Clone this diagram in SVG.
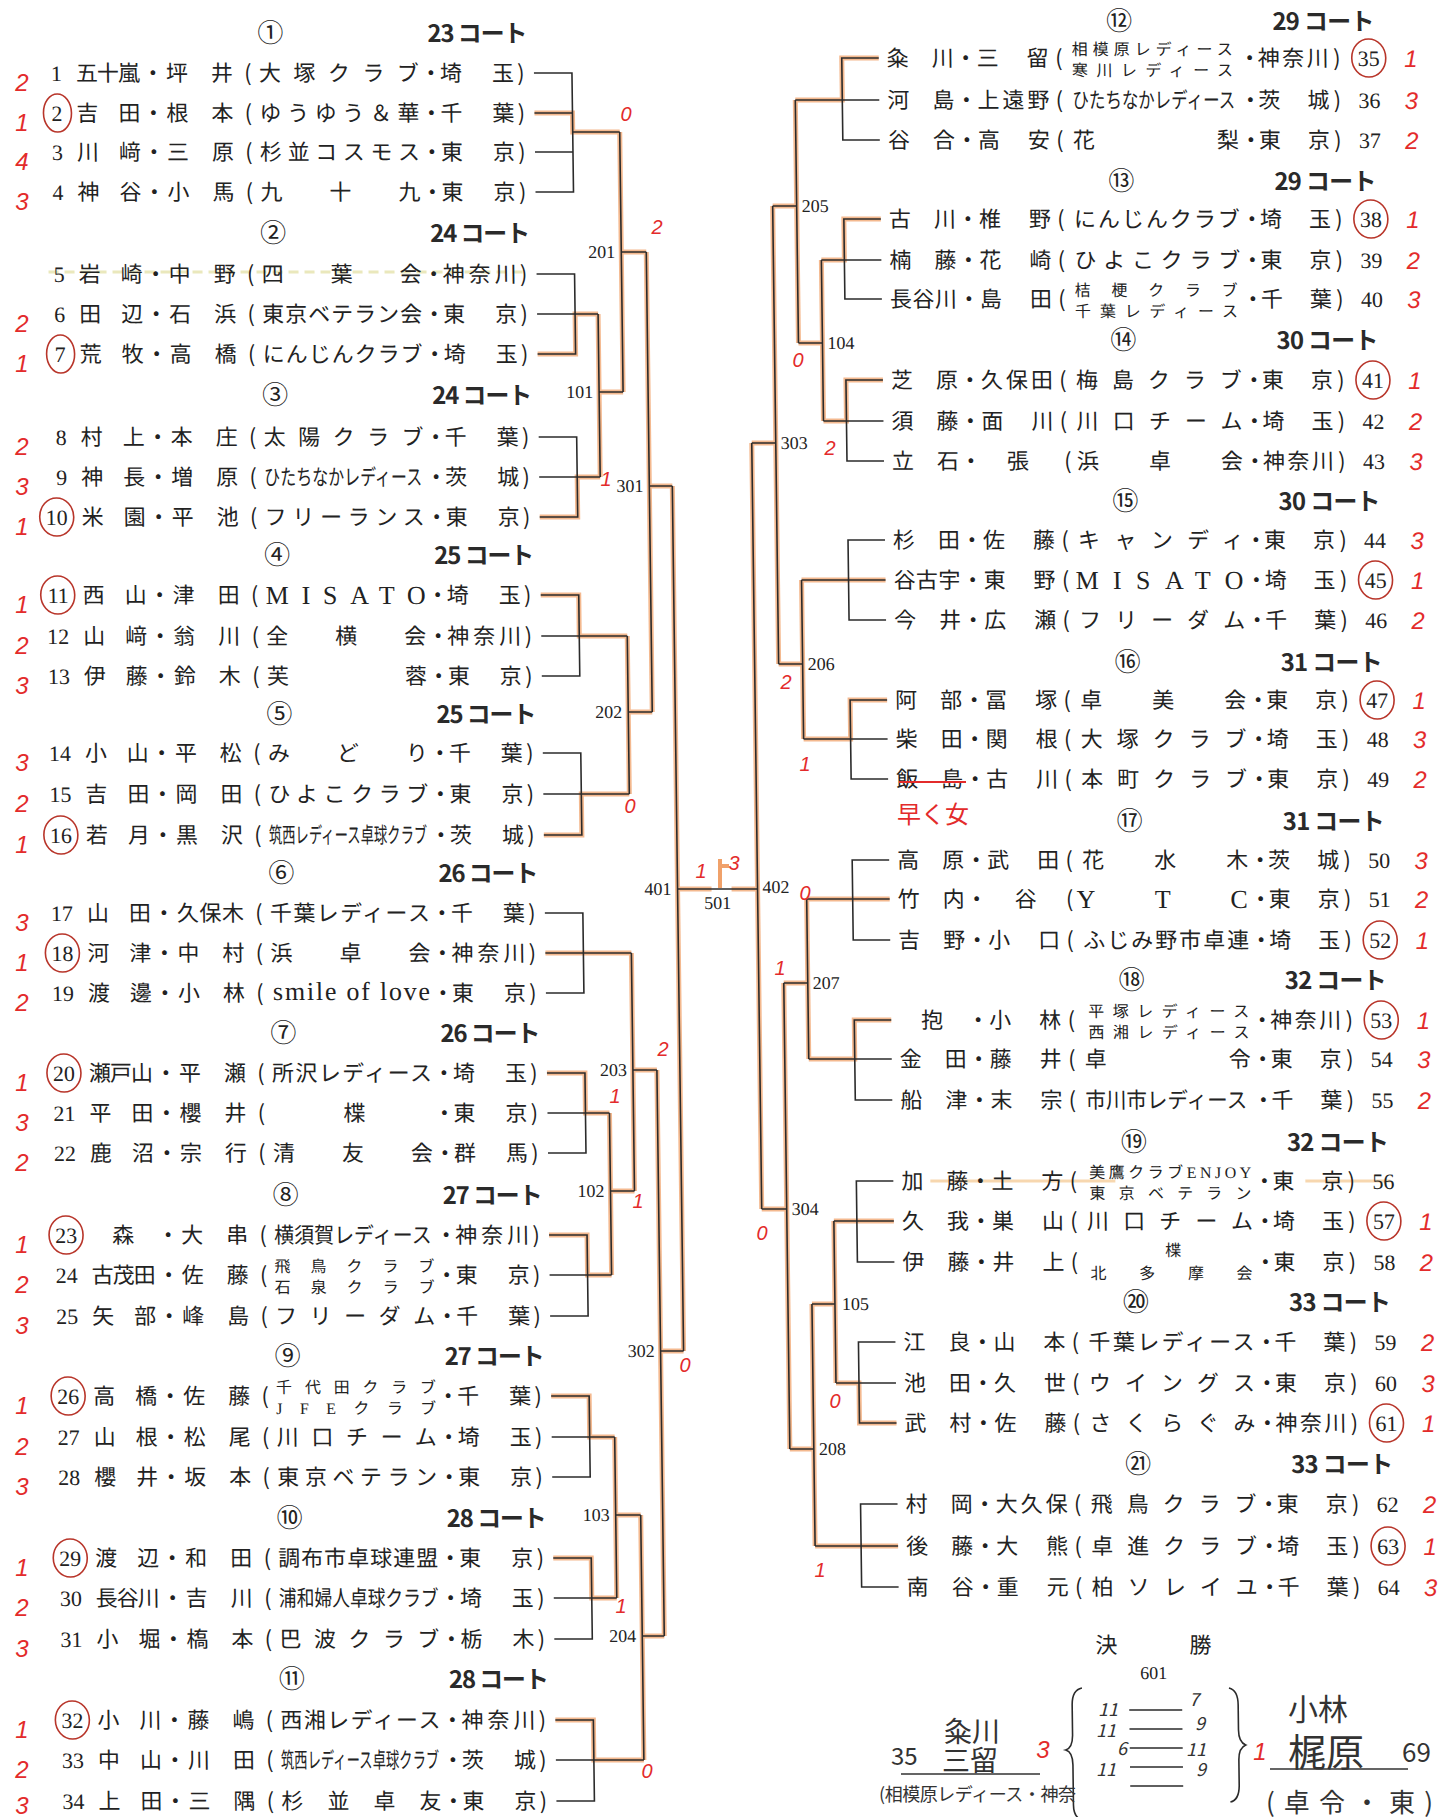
<svg xmlns="http://www.w3.org/2000/svg" width="1456" height="1817" viewBox="0 0 1456 1817">
<style>
.t{font-family:"Noto Sans CJK JP",sans-serif;font-size:22px;fill:#222}
.s{font-family:"Noto Sans CJK JP",sans-serif;font-size:16px;fill:#222}
.sl{font-family:"Liberation Serif","Noto Sans CJK JP",serif;font-size:16px;fill:#222}
.L{font-family:"Liberation Serif",serif;font-size:26px;fill:#222}
.m{text-anchor:middle}
.e{text-anchor:end}
.n{font-family:"Liberation Serif",serif;font-size:22px;fill:#222}
.h{font-family:"Noto Sans CJK JP",sans-serif;font-size:26px;fill:#222;text-anchor:middle}
.c{font-family:"Noto Sans CJK JP",sans-serif;font-size:24px;font-weight:700;fill:#2a2a2a;text-anchor:end}
.lb{font-family:"Liberation Serif",serif;font-size:18px;fill:#222}
.ln{fill:none;stroke:#2b2b2b;stroke-width:1.6}
.hl{fill:none;stroke:#ec8a45;stroke-width:5;opacity:.6}
.ci{fill:none;stroke:#b8352a;stroke-width:1.6}
.r{font-family:"Liberation Sans",sans-serif;font-style:italic;font-size:24px;fill:#e32b2b;text-anchor:middle}
.r2{font-family:"Liberation Sans",sans-serif;font-style:italic;font-size:20px;fill:#e32b2b;text-anchor:middle}
.hw{font-family:"Noto Sans CJK JP",sans-serif;fill:#333}
</style>
<rect width="1456" height="1817" fill="#fff"/>
<g transform="matrix(1 0 0.013 1 0 0)">
<g id="highlights">
<path class="hl" d="M533 113H571V132H618 M533 354H571V314H594 M533 517H571V477H594 M594 314V477 M594 392H618 M618 132V392 M618 252H643 M533 595H571V636H619 M533 835H571V794H619 M619 636V794 M619 712H643 M643 252V712 M643 486H666 M533 953H619 M533 1073H571V1113H595 M533 1235H571V1275H595 M595 1113V1275 M595 1191H619 M619 953V1191 M619 1070H643 M533 1396H571V1437H596 M533 1558H571V1598H596 M596 1437V1598 M596 1515H621 M533 1720H571V1760H621 M621 1515V1760 M621 1636H643 M643 1070V1636 M643 1351H666 M666 486V1351 M666 889H700"/>
<path class="hl" d="M878 58H841V100H794 M878 219H841V260H818 M878 380H841V421H818 M818 260V421 M818 343H794 M794 100V343 M794 206H770 M878 580H794 M878 700H841V739H794 M794 580V739 M794 664H770 M770 206V664 M770 443H746 M878 899H795 M878 1020H841V1059H795 M795 899V1059 M795 983H771 M878 1221H818 M878 1423H841V1383H818 M818 1221V1383 M818 1304H795 M878 1546H795 M795 1304V1546 M795 1449H771 M771 983V1449 M771 1209H746 M746 443V1209 M746 889H720"/>
<path d="M45 272H521" stroke="#d6d27a" stroke-width="3" stroke-dasharray="10 6" opacity=".5" fill="none"/>
<path d="M915 1181H1100 M1290 1181H1375" stroke="#f0b060" stroke-width="3" opacity=".5" fill="none"/>
</g>
<g id="connectors">
<path class="ln" d="M533 73H571V192H533 M533 113H571 M533 152H571 M571 132H618 M533 274H571V354H533 M533 314H594 M533 437H571V517H533 M533 477H594 M594 314V477 M594 392H618 M618 132V392 M618 252H643 M533 595H571V676H533 M533 636H619 M533 753H571V835H533 M533 794H619 M619 636V794 M619 712H643 M643 252V712 M643 486H666 M533 913H571V993H533 M533 953H619 M533 1073H571V1153H533 M533 1113H595 M533 1235H571V1316H533 M533 1275H595 M595 1113V1275 M595 1191H619 M619 953V1191 M619 1070H643 M533 1396H571V1477H533 M533 1437H596 M533 1558H571V1639H533 M533 1598H596 M596 1437V1598 M596 1515H621 M533 1720H571V1801H533 M533 1760H621 M621 1515V1760 M621 1636H643 M643 1070V1636 M643 1351H666 M666 486V1351 M666 889H746"/>
<path class="ln" d="M878 58H841V140H878 M878 100H794 M878 219H841V299H878 M878 260H818 M878 380H841V461H878 M878 421H818 M818 260V421 M818 343H794 M794 100V343 M794 206H770 M878 540H841V620H878 M878 580H794 M878 700H841V779H878 M878 739H794 M794 580V739 M794 664H770 M770 206V664 M770 443H746 M878 860H841V940H878 M878 899H795 M878 1020H841V1100H878 M878 1059H795 M795 899V1059 M795 983H771 M878 1181H841V1262H878 M878 1221H818 M878 1342H841V1423H878 M878 1383H818 M818 1221V1383 M818 1304H795 M878 1504H841V1587H878 M878 1546H795 M795 1304V1546 M795 1449H771 M771 983V1449 M771 1209H746 M746 443V1209"/>
</g>
<g id="match-labels" class="lb">
<text class="e" x="588" y="398">101</text><text class="e" x="612" y="258">201</text><text class="e" x="613" y="718">202</text><text class="e" x="637" y="492">301</text>
<text class="e" x="589" y="1197">102</text><text class="e" x="613" y="1076">203</text><text class="e" x="590" y="1521">103</text><text class="e" x="615" y="1642">204</text>
<text class="e" x="637" y="1357">302</text><text class="e" x="660" y="895">401</text>
<text x="823" y="349">104</text><text x="799" y="212">205</text><text x="799" y="670">206</text><text x="775" y="449">303</text>
<text x="800" y="989">207</text><text x="825" y="1310">105</text><text x="800" y="1455">208</text><text x="776" y="1215">304</text>
<text x="751" y="893">402</text><text class="m" x="706" y="909">501</text>
</g>
<g id="headers">
<text class="h" x="270" y="42">①</text><text class="c" x="527" y="42" textLength="100">23 コート</text>
<text class="h" x="270" y="242">②</text><text class="c" x="527" y="242" textLength="100">24 コート</text>
<text class="h" x="270" y="404">③</text><text class="c" x="527" y="404" textLength="100">24 コート</text>
<text class="h" x="270" y="564">④</text><text class="c" x="527" y="564" textLength="100">25 コート</text>
<text class="h" x="270" y="723">⑤</text><text class="c" x="527" y="723" textLength="100">25 コート</text>
<text class="h" x="270" y="882">⑥</text><text class="c" x="527" y="882" textLength="100">26 コート</text>
<text class="h" x="270" y="1042">⑦</text><text class="c" x="527" y="1042" textLength="100">26 コート</text>
<text class="h" x="270" y="1204">⑧</text><text class="c" x="527" y="1204" textLength="100">27 コート</text>
<text class="h" x="270" y="1365">⑨</text><text class="c" x="527" y="1365" textLength="100">27 コート</text>
<text class="h" x="270" y="1527">⑩</text><text class="c" x="527" y="1527" textLength="100">28 コート</text>
<text class="h" x="270" y="1688">⑪</text><text class="c" x="527" y="1688" textLength="100">28 コート</text>
<text class="h" x="1119" y="30">⑫</text><text class="c" x="1374" y="30" textLength="102">29 コート</text>
<text class="h" x="1119" y="190">⑬</text><text class="c" x="1374" y="190" textLength="102">29 コート</text>
<text class="h" x="1119" y="349">⑭</text><text class="c" x="1374" y="349" textLength="102">30 コート</text>
<text class="h" x="1119" y="510">⑮</text><text class="c" x="1374" y="510" textLength="102">30 コート</text>
<text class="h" x="1119" y="671">⑯</text><text class="c" x="1374" y="671" textLength="102">31 コート</text>
<text class="h" x="1119" y="830">⑰</text><text class="c" x="1374" y="830" textLength="102">31 コート</text>
<text class="h" x="1119" y="989">⑱</text><text class="c" x="1374" y="989" textLength="102">32 コート</text>
<text class="h" x="1119" y="1151">⑲</text><text class="c" x="1374" y="1151" textLength="102">32 コート</text>
<text class="h" x="1119" y="1311">⑳</text><text class="c" x="1374" y="1311" textLength="102">33 コート</text>
<text class="h" x="1119" y="1473">㉑</text><text class="c" x="1374" y="1473" textLength="102">33 コート</text>
</g>
<g id="p1"><text class="n e" x="61" y="81">1</text><text class="t" x="75" y="81" textLength="64">五十嵐</text><text class="t" x="165" y="81" textLength="67">坪井</text><text class="t" x="258" y="81" textLength="160">大塚クラブ</text><text class="t" x="439" y="81" textLength="74">埼玉</text><text class="t m" y="81"><tspan x="152">・</tspan><tspan x="247">(</tspan><tspan x="430">・</tspan><tspan x="520">)</tspan></text></g>
<g id="p2"><ellipse class="ci" cx="56" cy="113" rx="14" ry="19"/><text class="n e" x="61" y="121">2</text><text class="t" x="75" y="121" textLength="64">吉田</text><text class="t" x="165" y="121" textLength="67">根本</text><text class="t" x="258" y="121" textLength="160">ゆうゆう＆華</text><text class="t" x="439" y="121" textLength="74">千葉</text><text class="t m" y="121"><tspan x="152">・</tspan><tspan x="247">(</tspan><tspan x="430">・</tspan><tspan x="520">)</tspan></text></g>
<g id="p3"><text class="n e" x="61" y="160">3</text><text class="t" x="75" y="160" textLength="64">川﨑</text><text class="t" x="165" y="160" textLength="67">三原</text><text class="t" x="258" y="160" textLength="160">杉並コスモス</text><text class="t" x="439" y="160" textLength="74">東京</text><text class="t m" y="160"><tspan x="152">・</tspan><tspan x="247">(</tspan><tspan x="430">・</tspan><tspan x="520">)</tspan></text></g>
<g id="p4"><text class="n e" x="61" y="200">4</text><text class="t" x="75" y="200" textLength="64">神谷</text><text class="t" x="165" y="200" textLength="67">小馬</text><text class="t" x="258" y="200" textLength="160">九十九</text><text class="t" x="439" y="200" textLength="74">東京</text><text class="t m" y="200"><tspan x="152">・</tspan><tspan x="247">(</tspan><tspan x="430">・</tspan><tspan x="520">)</tspan></text></g>
<g id="p5"><text class="n e" x="61" y="282">5</text><text class="t" x="75" y="282" textLength="64">岩崎</text><text class="t" x="165" y="282" textLength="67">中野</text><text class="t" x="258" y="282" textLength="160">四葉会</text><text class="t" x="439" y="282" textLength="74">神奈川</text><text class="t m" y="282"><tspan x="152">・</tspan><tspan x="247">(</tspan><tspan x="430">・</tspan><tspan x="520">)</tspan></text></g>
<g id="p6"><text class="n e" x="61" y="322">6</text><text class="t" x="75" y="322" textLength="64">田辺</text><text class="t" x="165" y="322" textLength="67">石浜</text><text class="t" x="258" y="322" textLength="160">東京ベテラン会</text><text class="t" x="439" y="322" textLength="74">東京</text><text class="t m" y="322"><tspan x="152">・</tspan><tspan x="247">(</tspan><tspan x="430">・</tspan><tspan x="520">)</tspan></text></g>
<g id="p7"><ellipse class="ci" cx="56" cy="354" rx="14" ry="19"/><text class="n e" x="61" y="362">7</text><text class="t" x="75" y="362" textLength="64">荒牧</text><text class="t" x="165" y="362" textLength="67">高橋</text><text class="t" x="258" y="362" textLength="160">にんじんクラブ</text><text class="t" x="439" y="362" textLength="74">埼玉</text><text class="t m" y="362"><tspan x="152">・</tspan><tspan x="247">(</tspan><tspan x="430">・</tspan><tspan x="520">)</tspan></text></g>
<g id="p8"><text class="n e" x="61" y="445">8</text><text class="t" x="75" y="445" textLength="64">村上</text><text class="t" x="165" y="445" textLength="67">本庄</text><text class="t" x="258" y="445" textLength="160">太陽クラブ</text><text class="t" x="439" y="445" textLength="74">千葉</text><text class="t m" y="445"><tspan x="152">・</tspan><tspan x="247">(</tspan><tspan x="430">・</tspan><tspan x="520">)</tspan></text></g>
<g id="p9"><text class="n e" x="61" y="485">9</text><text class="t" x="75" y="485" textLength="64">神長</text><text class="t" x="165" y="485" textLength="67">増原</text><text class="t" transform="translate(258 485) scale(0.727 1)">ひたちなかレディース</text><text class="t" x="439" y="485" textLength="74">茨城</text><text class="t m" y="485"><tspan x="152">・</tspan><tspan x="247">(</tspan><tspan x="430">・</tspan><tspan x="520">)</tspan></text></g>
<g id="p10"><ellipse class="ci" cx="50" cy="517" rx="17" ry="19"/><text class="n e" x="61" y="525">10</text><text class="t" x="75" y="525" textLength="64">米園</text><text class="t" x="165" y="525" textLength="67">平池</text><text class="t" x="258" y="525" textLength="160">フリーランス</text><text class="t" x="439" y="525" textLength="74">東京</text><text class="t m" y="525"><tspan x="152">・</tspan><tspan x="247">(</tspan><tspan x="430">・</tspan><tspan x="520">)</tspan></text></g>
<g id="p11"><ellipse class="ci" cx="50" cy="595" rx="17" ry="19"/><text class="n e" x="61" y="603">11</text><text class="t" x="75" y="603" textLength="64">西山</text><text class="t" x="165" y="603" textLength="67">津田</text><text class="L" x="258" y="604" textLength="160">MISATO</text><text class="t" x="439" y="603" textLength="74">埼玉</text><text class="t m" y="603"><tspan x="152">・</tspan><tspan x="247">(</tspan><tspan x="430">・</tspan><tspan x="520">)</tspan></text></g>
<g id="p12"><text class="n e" x="61" y="644">12</text><text class="t" x="75" y="644" textLength="64">山﨑</text><text class="t" x="165" y="644" textLength="67">翁川</text><text class="t" x="258" y="644" textLength="160">全横会</text><text class="t" x="439" y="644" textLength="74">神奈川</text><text class="t m" y="644"><tspan x="152">・</tspan><tspan x="247">(</tspan><tspan x="430">・</tspan><tspan x="520">)</tspan></text></g>
<g id="p13"><text class="n e" x="61" y="684">13</text><text class="t" x="75" y="684" textLength="64">伊藤</text><text class="t" x="165" y="684" textLength="67">鈴木</text><text class="t" x="258" y="684" textLength="160">芙蓉</text><text class="t" x="439" y="684" textLength="74">東京</text><text class="t m" y="684"><tspan x="152">・</tspan><tspan x="247">(</tspan><tspan x="430">・</tspan><tspan x="520">)</tspan></text></g>
<g id="p14"><text class="n e" x="61" y="761">14</text><text class="t" x="75" y="761" textLength="64">小山</text><text class="t" x="165" y="761" textLength="67">平松</text><text class="t" x="258" y="761" textLength="160">みどり</text><text class="t" x="439" y="761" textLength="74">千葉</text><text class="t m" y="761"><tspan x="152">・</tspan><tspan x="247">(</tspan><tspan x="430">・</tspan><tspan x="520">)</tspan></text></g>
<g id="p15"><text class="n e" x="61" y="802">15</text><text class="t" x="75" y="802" textLength="64">吉田</text><text class="t" x="165" y="802" textLength="67">岡田</text><text class="t" x="258" y="802" textLength="160">ひよこクラブ</text><text class="t" x="439" y="802" textLength="74">東京</text><text class="t m" y="802"><tspan x="152">・</tspan><tspan x="247">(</tspan><tspan x="430">・</tspan><tspan x="520">)</tspan></text></g>
<g id="p16"><ellipse class="ci" cx="50" cy="835" rx="17" ry="19"/><text class="n e" x="61" y="843">16</text><text class="t" x="75" y="843" textLength="64">若月</text><text class="t" x="165" y="843" textLength="67">黒沢</text><text class="t" transform="translate(258 843) scale(0.606 1)">筑西レディース卓球クラブ</text><text class="t" x="439" y="843" textLength="74">茨城</text><text class="t m" y="843"><tspan x="152">・</tspan><tspan x="247">(</tspan><tspan x="430">・</tspan><tspan x="520">)</tspan></text></g>
<g id="p17"><text class="n e" x="61" y="921">17</text><text class="t" x="75" y="921" textLength="64">山田</text><text class="t" x="165" y="921" textLength="67">久保木</text><text class="t" x="258" y="921" textLength="160">千葉レディース</text><text class="t" x="439" y="921" textLength="74">千葉</text><text class="t m" y="921"><tspan x="152">・</tspan><tspan x="247">(</tspan><tspan x="430">・</tspan><tspan x="520">)</tspan></text></g>
<g id="p18"><ellipse class="ci" cx="50" cy="953" rx="17" ry="19"/><text class="n e" x="61" y="961">18</text><text class="t" x="75" y="961" textLength="64">河津</text><text class="t" x="165" y="961" textLength="67">中村</text><text class="t" x="258" y="961" textLength="160">浜卓会</text><text class="t" x="439" y="961" textLength="74">神奈川</text><text class="t m" y="961"><tspan x="152">・</tspan><tspan x="247">(</tspan><tspan x="430">・</tspan><tspan x="520">)</tspan></text></g>
<g id="p19"><text class="n e" x="61" y="1001">19</text><text class="t" x="75" y="1001" textLength="64">渡邊</text><text class="t" x="165" y="1001" textLength="67">小林</text><text class="L" x="260" y="1000" font-size="20" textLength="157">smile of love</text><text class="t" x="439" y="1001" textLength="74">東京</text><text class="t m" y="1001"><tspan x="152">・</tspan><tspan x="247">(</tspan><tspan x="430">・</tspan><tspan x="520">)</tspan></text></g>
<g id="p20"><ellipse class="ci" cx="50" cy="1073" rx="17" ry="19"/><text class="n e" x="61" y="1081">20</text><text class="t" x="75" y="1081" textLength="64">瀬戸山</text><text class="t" x="165" y="1081" textLength="67">平瀬</text><text class="t" x="258" y="1081" textLength="160">所沢レディース</text><text class="t" x="439" y="1081" textLength="74">埼玉</text><text class="t m" y="1081"><tspan x="152">・</tspan><tspan x="247">(</tspan><tspan x="430">・</tspan><tspan x="520">)</tspan></text></g>
<g id="p21"><text class="n e" x="61" y="1121">21</text><text class="t" x="75" y="1121" textLength="64">平田</text><text class="t" x="165" y="1121" textLength="67">櫻井</text><text class="t" x="439" y="1121" textLength="74">東京</text><text class="t m" y="1121"><tspan x="152">・</tspan><tspan x="247">(</tspan><tspan x="340">楪</tspan><tspan x="430">・</tspan><tspan x="520">)</tspan></text></g>
<g id="p22"><text class="n e" x="61" y="1161">22</text><text class="t" x="75" y="1161" textLength="64">鹿沼</text><text class="t" x="165" y="1161" textLength="67">宗行</text><text class="t" x="258" y="1161" textLength="160">清友会</text><text class="t" x="439" y="1161" textLength="74">群馬</text><text class="t m" y="1161"><tspan x="152">・</tspan><tspan x="247">(</tspan><tspan x="430">・</tspan><tspan x="520">)</tspan></text></g>
<g id="p23"><ellipse class="ci" cx="50" cy="1235" rx="17" ry="19"/><text class="n e" x="61" y="1243">23</text><text class="t" x="165" y="1243" textLength="67">大串</text><text class="t" transform="translate(258 1243) scale(0.909 1)">横須賀レディース</text><text class="t" x="439" y="1243" textLength="74">神奈川</text><text class="t m" y="1243"><tspan x="107">森</tspan><tspan x="152">・</tspan><tspan x="247">(</tspan><tspan x="430">・</tspan><tspan x="520">)</tspan></text></g>
<g id="p24"><text class="n e" x="61" y="1283">24</text><text class="t" x="75" y="1283" textLength="64">古茂田</text><text class="t" x="165" y="1283" textLength="67">佐藤</text><text class="s" x="258" y="1272" textLength="160">飛鳥クラブ</text><text class="s" x="258" y="1293" textLength="160">石泉クラブ</text><text class="t" x="439" y="1283" textLength="74">東京</text><text class="t m" y="1283"><tspan x="152">・</tspan><tspan x="247">(</tspan><tspan x="430">・</tspan><tspan x="520">)</tspan></text></g>
<g id="p25"><text class="n e" x="61" y="1324">25</text><text class="t" x="75" y="1324" textLength="64">矢部</text><text class="t" x="165" y="1324" textLength="67">峰島</text><text class="t" x="258" y="1324" textLength="160">フリーダム</text><text class="t" x="439" y="1324" textLength="74">千葉</text><text class="t m" y="1324"><tspan x="152">・</tspan><tspan x="247">(</tspan><tspan x="430">・</tspan><tspan x="520">)</tspan></text></g>
<g id="p26"><ellipse class="ci" cx="50" cy="1396" rx="17" ry="19"/><text class="n e" x="61" y="1404">26</text><text class="t" x="75" y="1404" textLength="64">高橋</text><text class="t" x="165" y="1404" textLength="67">佐藤</text><text class="s" x="258" y="1393" textLength="160">千代田クラブ</text><text class="sl" x="258" y="1414" textLength="160">JFEクラブ</text><text class="t" x="439" y="1404" textLength="74">千葉</text><text class="t m" y="1404"><tspan x="152">・</tspan><tspan x="247">(</tspan><tspan x="430">・</tspan><tspan x="520">)</tspan></text></g>
<g id="p27"><text class="n e" x="61" y="1445">27</text><text class="t" x="75" y="1445" textLength="64">山根</text><text class="t" x="165" y="1445" textLength="67">松尾</text><text class="t" x="258" y="1445" textLength="160">川口チーム</text><text class="t" x="439" y="1445" textLength="74">埼玉</text><text class="t m" y="1445"><tspan x="152">・</tspan><tspan x="247">(</tspan><tspan x="430">・</tspan><tspan x="520">)</tspan></text></g>
<g id="p28"><text class="n e" x="61" y="1485">28</text><text class="t" x="75" y="1485" textLength="64">櫻井</text><text class="t" x="165" y="1485" textLength="67">坂本</text><text class="t" x="258" y="1485" textLength="160">東京ベテラン</text><text class="t" x="439" y="1485" textLength="74">東京</text><text class="t m" y="1485"><tspan x="152">・</tspan><tspan x="247">(</tspan><tspan x="430">・</tspan><tspan x="520">)</tspan></text></g>
<g id="p29"><ellipse class="ci" cx="50" cy="1558" rx="17" ry="19"/><text class="n e" x="61" y="1566">29</text><text class="t" x="75" y="1566" textLength="64">渡辺</text><text class="t" x="165" y="1566" textLength="67">和田</text><text class="t" x="258" y="1566" textLength="160">調布市卓球連盟</text><text class="t" x="439" y="1566" textLength="74">東京</text><text class="t m" y="1566"><tspan x="152">・</tspan><tspan x="247">(</tspan><tspan x="430">・</tspan><tspan x="520">)</tspan></text></g>
<g id="p30"><text class="n e" x="61" y="1606">30</text><text class="t" x="75" y="1606" textLength="64">長谷川</text><text class="t" x="165" y="1606" textLength="67">吉川</text><text class="t" transform="translate(258 1606) scale(0.808 1)">浦和婦人卓球クラブ</text><text class="t" x="439" y="1606" textLength="74">埼玉</text><text class="t m" y="1606"><tspan x="152">・</tspan><tspan x="247">(</tspan><tspan x="430">・</tspan><tspan x="520">)</tspan></text></g>
<g id="p31"><text class="n e" x="61" y="1647">31</text><text class="t" x="75" y="1647" textLength="64">小堀</text><text class="t" x="165" y="1647" textLength="67">槗本</text><text class="t" x="258" y="1647" textLength="160">巴波クラブ</text><text class="t" x="439" y="1647" textLength="74">栃木</text><text class="t m" y="1647"><tspan x="152">・</tspan><tspan x="247">(</tspan><tspan x="430">・</tspan><tspan x="520">)</tspan></text></g>
<g id="p32"><ellipse class="ci" cx="50" cy="1720" rx="17" ry="19"/><text class="n e" x="61" y="1728">32</text><text class="t" x="75" y="1728" textLength="64">小川</text><text class="t" x="165" y="1728" textLength="67">藤嶋</text><text class="t" x="258" y="1728" textLength="160">西湘レディース</text><text class="t" x="439" y="1728" textLength="74">神奈川</text><text class="t m" y="1728"><tspan x="152">・</tspan><tspan x="247">(</tspan><tspan x="430">・</tspan><tspan x="520">)</tspan></text></g>
<g id="p33"><text class="n e" x="61" y="1768">33</text><text class="t" x="75" y="1768" textLength="64">中山</text><text class="t" x="165" y="1768" textLength="67">川田</text><text class="t" transform="translate(258 1768) scale(0.606 1)">筑西レディース卓球クラブ</text><text class="t" x="439" y="1768" textLength="74">茨城</text><text class="t m" y="1768"><tspan x="152">・</tspan><tspan x="247">(</tspan><tspan x="430">・</tspan><tspan x="520">)</tspan></text></g>
<g id="p34"><text class="n e" x="61" y="1809">34</text><text class="t" x="75" y="1809" textLength="64">上田</text><text class="t" x="165" y="1809" textLength="67">三隅</text><text class="t" x="258" y="1809" textLength="160">杉並卓友</text><text class="t" x="439" y="1809" textLength="74">東京</text><text class="t m" y="1809"><tspan x="152">・</tspan><tspan x="247">(</tspan><tspan x="430">・</tspan><tspan x="520">)</tspan></text></g>
<g id="p35"><text class="t" x="886" y="66" textLength="67">粂川</text><text class="t" x="976" y="66" textLength="72">三留</text><text class="s" x="1071" y="55" textLength="161">相模原レディース</text><text class="s" x="1071" y="76" textLength="161">寒川レディース</text><text class="t" x="1257" y="66" textLength="71">神奈川</text><text class="t m" y="66"><tspan x="965">・</tspan><tspan x="1058">(</tspan><tspan x="1249">・</tspan><tspan x="1336">)</tspan></text><ellipse class="ci" cx="1368" cy="58" rx="17" ry="19"/><text class="n" x="1357" y="66">35</text></g>
<g id="p36"><text class="t" x="886" y="108" textLength="67">河島</text><text class="t" x="976" y="108" textLength="72">上遠野</text><text class="t" transform="translate(1071 108) scale(0.75 1)">ひたちなかレディース</text><text class="t" x="1257" y="108" textLength="71">茨城</text><text class="t m" y="108"><tspan x="965">・</tspan><tspan x="1058">(</tspan><tspan x="1249">・</tspan><tspan x="1336">)</tspan></text><text class="n" x="1357" y="108">36</text></g>
<g id="p37"><text class="t" x="886" y="148" textLength="67">谷合</text><text class="t" x="976" y="148" textLength="72">高安</text><text class="t" x="1071" y="148" textLength="166">花梨</text><text class="t" x="1257" y="148" textLength="71">東京</text><text class="t m" y="148"><tspan x="965">・</tspan><tspan x="1058">(</tspan><tspan x="1249">・</tspan><tspan x="1336">)</tspan></text><text class="n" x="1357" y="148">37</text></g>
<g id="p38"><text class="t" x="886" y="227" textLength="67">古川</text><text class="t" x="976" y="227" textLength="72">椎野</text><text class="t" x="1071" y="227" textLength="166">にんじんクラブ</text><text class="t" x="1257" y="227" textLength="71">埼玉</text><text class="t m" y="227"><tspan x="965">・</tspan><tspan x="1058">(</tspan><tspan x="1249">・</tspan><tspan x="1336">)</tspan></text><ellipse class="ci" cx="1368" cy="219" rx="17" ry="19"/><text class="n" x="1357" y="227">38</text></g>
<g id="p39"><text class="t" x="886" y="268" textLength="67">楠藤</text><text class="t" x="976" y="268" textLength="72">花崎</text><text class="t" x="1071" y="268" textLength="166">ひよこクラブ</text><text class="t" x="1257" y="268" textLength="71">東京</text><text class="t m" y="268"><tspan x="965">・</tspan><tspan x="1058">(</tspan><tspan x="1249">・</tspan><tspan x="1336">)</tspan></text><text class="n" x="1357" y="268">39</text></g>
<g id="p40"><text class="t" x="886" y="307" textLength="67">長谷川</text><text class="t" x="976" y="307" textLength="72">島田</text><text class="s" x="1071" y="296" textLength="163">桔梗クラブ</text><text class="s" x="1071" y="317" textLength="163">千葉レディース</text><text class="t" x="1257" y="307" textLength="71">千葉</text><text class="t m" y="307"><tspan x="965">・</tspan><tspan x="1058">(</tspan><tspan x="1249">・</tspan><tspan x="1336">)</tspan></text><text class="n" x="1357" y="307">40</text></g>
<g id="p41"><text class="t" x="886" y="388" textLength="67">芝原</text><text class="t" x="976" y="388" textLength="72">久保田</text><text class="t" x="1071" y="388" textLength="166">梅島クラブ</text><text class="t" x="1257" y="388" textLength="71">東京</text><text class="t m" y="388"><tspan x="965">・</tspan><tspan x="1058">(</tspan><tspan x="1249">・</tspan><tspan x="1336">)</tspan></text><ellipse class="ci" cx="1368" cy="380" rx="17" ry="19"/><text class="n" x="1357" y="388">41</text></g>
<g id="p42"><text class="t" x="886" y="429" textLength="67">須藤</text><text class="t" x="976" y="429" textLength="72">面川</text><text class="t" x="1071" y="429" textLength="166">川口チーム</text><text class="t" x="1257" y="429" textLength="71">埼玉</text><text class="t m" y="429"><tspan x="965">・</tspan><tspan x="1058">(</tspan><tspan x="1249">・</tspan><tspan x="1336">)</tspan></text><text class="n" x="1357" y="429">42</text></g>
<g id="p43"><text class="t" x="886" y="469" textLength="67">立石</text><text class="t" x="1071" y="469" textLength="166">浜卓会</text><text class="t" x="1257" y="469" textLength="71">神奈川</text><text class="t m" y="469"><tspan x="965">・</tspan><tspan x="1012">張</tspan><tspan x="1062">(</tspan><tspan x="1249">・</tspan><tspan x="1336">)</tspan></text><text class="n" x="1357" y="469">43</text></g>
<g id="p44"><text class="t" x="886" y="548" textLength="67">杉田</text><text class="t" x="976" y="548" textLength="72">佐藤</text><text class="t" x="1071" y="548" textLength="166">キャンディ</text><text class="t" x="1257" y="548" textLength="71">東京</text><text class="t m" y="548"><tspan x="965">・</tspan><tspan x="1058">(</tspan><tspan x="1249">・</tspan><tspan x="1336">)</tspan></text><text class="n" x="1357" y="548">44</text></g>
<g id="p45"><text class="t" x="886" y="588" textLength="67">谷古宇</text><text class="t" x="976" y="588" textLength="72">東野</text><text class="L" x="1068" y="589" textLength="168">MISATO</text><text class="t" x="1257" y="588" textLength="71">埼玉</text><text class="t m" y="588"><tspan x="965">・</tspan><tspan x="1058">(</tspan><tspan x="1249">・</tspan><tspan x="1336">)</tspan></text><ellipse class="ci" cx="1368" cy="580" rx="17" ry="19"/><text class="n" x="1357" y="588">45</text></g>
<g id="p46"><text class="t" x="886" y="628" textLength="67">今井</text><text class="t" x="976" y="628" textLength="72">広瀬</text><text class="t" x="1071" y="628" textLength="166">フリーダム</text><text class="t" x="1257" y="628" textLength="71">千葉</text><text class="t m" y="628"><tspan x="965">・</tspan><tspan x="1058">(</tspan><tspan x="1249">・</tspan><tspan x="1336">)</tspan></text><text class="n" x="1357" y="628">46</text></g>
<g id="p47"><text class="t" x="886" y="708" textLength="67">阿部</text><text class="t" x="976" y="708" textLength="72">冨塚</text><text class="t" x="1071" y="708" textLength="166">卓美会</text><text class="t" x="1257" y="708" textLength="71">東京</text><text class="t m" y="708"><tspan x="965">・</tspan><tspan x="1058">(</tspan><tspan x="1249">・</tspan><tspan x="1336">)</tspan></text><ellipse class="ci" cx="1368" cy="700" rx="17" ry="19"/><text class="n" x="1357" y="708">47</text></g>
<g id="p48"><text class="t" x="886" y="747" textLength="67">柴田</text><text class="t" x="976" y="747" textLength="72">関根</text><text class="t" x="1071" y="747" textLength="166">大塚クラブ</text><text class="t" x="1257" y="747" textLength="71">埼玉</text><text class="t m" y="747"><tspan x="965">・</tspan><tspan x="1058">(</tspan><tspan x="1249">・</tspan><tspan x="1336">)</tspan></text><text class="n" x="1357" y="747">48</text></g>
<g id="p49"><text class="t" x="886" y="787" textLength="67">飯島</text><text class="t" x="976" y="787" textLength="72">古川</text><text class="t" x="1071" y="787" textLength="166">本町クラブ</text><text class="t" x="1257" y="787" textLength="71">東京</text><text class="t m" y="787"><tspan x="965">・</tspan><tspan x="1058">(</tspan><tspan x="1249">・</tspan><tspan x="1336">)</tspan></text><text class="n" x="1357" y="787">49</text></g>
<g id="p50"><text class="t" x="886" y="868" textLength="67">高原</text><text class="t" x="976" y="868" textLength="72">武田</text><text class="t" x="1071" y="868" textLength="166">花水木</text><text class="t" x="1257" y="868" textLength="71">茨城</text><text class="t m" y="868"><tspan x="965">・</tspan><tspan x="1058">(</tspan><tspan x="1249">・</tspan><tspan x="1336">)</tspan></text><text class="n" x="1357" y="868">50</text></g>
<g id="p51"><text class="t" x="886" y="907" textLength="67">竹内</text><text class="L" x="1065" y="908" textLength="171">YTC</text><text class="t" x="1257" y="907" textLength="71">東京</text><text class="t m" y="907"><tspan x="965">・</tspan><tspan x="1014">谷</tspan><tspan x="1058">(</tspan><tspan x="1249">・</tspan><tspan x="1336">)</tspan></text><text class="n" x="1357" y="907">51</text></g>
<g id="p52"><text class="t" x="886" y="948" textLength="67">吉野</text><text class="t" x="976" y="948" textLength="72">小口</text><text class="t" x="1071" y="948" textLength="166">ふじみ野市卓連</text><text class="t" x="1257" y="948" textLength="71">埼玉</text><text class="t m" y="948"><tspan x="965">・</tspan><tspan x="1058">(</tspan><tspan x="1249">・</tspan><tspan x="1336">)</tspan></text><ellipse class="ci" cx="1368" cy="940" rx="17" ry="19"/><text class="n" x="1357" y="948">52</text></g>
<g id="p53"><text class="t" x="976" y="1028" textLength="72">小林</text><text class="s" x="1075" y="1017" textLength="161">平塚レディース</text><text class="s" x="1075" y="1038" textLength="161">西湘レディース</text><text class="t" x="1257" y="1028" textLength="71">神奈川</text><text class="t m" y="1028"><tspan x="919">抱</tspan><tspan x="965">・</tspan><tspan x="1058">(</tspan><tspan x="1249">・</tspan><tspan x="1336">)</tspan></text><ellipse class="ci" cx="1368" cy="1020" rx="17" ry="19"/><text class="n" x="1357" y="1028">53</text></g>
<g id="p54"><text class="t" x="886" y="1067" textLength="67">金田</text><text class="t" x="976" y="1067" textLength="72">藤井</text><text class="t" x="1071" y="1067" textLength="166">卓令</text><text class="t" x="1257" y="1067" textLength="71">東京</text><text class="t m" y="1067"><tspan x="965">・</tspan><tspan x="1058">(</tspan><tspan x="1249">・</tspan><tspan x="1336">)</tspan></text><text class="n" x="1357" y="1067">54</text></g>
<g id="p55"><text class="t" x="886" y="1108" textLength="67">船津</text><text class="t" x="976" y="1108" textLength="72">末宗</text><text class="t" transform="translate(1071 1108) scale(0.935 1)">市川市レディース</text><text class="t" x="1257" y="1108" textLength="71">千葉</text><text class="t m" y="1108"><tspan x="965">・</tspan><tspan x="1058">(</tspan><tspan x="1249">・</tspan><tspan x="1336">)</tspan></text><text class="n" x="1357" y="1108">55</text></g>
<g id="p56"><text class="t" x="886" y="1189" textLength="67">加藤</text><text class="t" x="976" y="1189" textLength="72">土方</text><text class="sl" x="1074" y="1178" textLength="162">美鷹クラブENJOY</text><text class="s" x="1074" y="1199" textLength="162">東京ベテラン</text><text class="t" x="1257" y="1189" textLength="71">東京</text><text class="t m" y="1189"><tspan x="965">・</tspan><tspan x="1058">(</tspan><tspan x="1249">・</tspan><tspan x="1336">)</tspan></text><text class="n" x="1357" y="1189">56</text></g>
<g id="p57"><text class="t" x="886" y="1229" textLength="67">久我</text><text class="t" x="976" y="1229" textLength="72">巣山</text><text class="t" x="1071" y="1229" textLength="166">川口チーム</text><text class="t" x="1257" y="1229" textLength="71">埼玉</text><text class="t m" y="1229"><tspan x="965">・</tspan><tspan x="1058">(</tspan><tspan x="1249">・</tspan><tspan x="1336">)</tspan></text><ellipse class="ci" cx="1368" cy="1221" rx="17" ry="19"/><text class="n" x="1357" y="1229">57</text></g>
<g id="p58"><text class="t" x="886" y="1270" textLength="67">伊藤</text><text class="t" x="976" y="1270" textLength="72">井上</text><text class="s m" x="1157" y="1256">楪</text><text class="s" x="1074" y="1279" textLength="162">北多摩会</text><text class="t" x="1257" y="1270" textLength="71">東京</text><text class="t m" y="1270"><tspan x="965">・</tspan><tspan x="1058">(</tspan><tspan x="1249">・</tspan><tspan x="1336">)</tspan></text><text class="n" x="1357" y="1270">58</text></g>
<g id="p59"><text class="t" x="886" y="1350" textLength="67">江良</text><text class="t" x="976" y="1350" textLength="72">山本</text><text class="t" x="1071" y="1350" textLength="166">千葉レディース</text><text class="t" x="1257" y="1350" textLength="71">千葉</text><text class="t m" y="1350"><tspan x="965">・</tspan><tspan x="1058">(</tspan><tspan x="1249">・</tspan><tspan x="1336">)</tspan></text><text class="n" x="1357" y="1350">59</text></g>
<g id="p60"><text class="t" x="886" y="1391" textLength="67">池田</text><text class="t" x="976" y="1391" textLength="72">久世</text><text class="t" x="1071" y="1391" textLength="166">ウイングス</text><text class="t" x="1257" y="1391" textLength="71">東京</text><text class="t m" y="1391"><tspan x="965">・</tspan><tspan x="1058">(</tspan><tspan x="1249">・</tspan><tspan x="1336">)</tspan></text><text class="n" x="1357" y="1391">60</text></g>
<g id="p61"><text class="t" x="886" y="1431" textLength="67">武村</text><text class="t" x="976" y="1431" textLength="72">佐藤</text><text class="t" x="1071" y="1431" textLength="166">さくらぐみ</text><text class="t" x="1257" y="1431" textLength="71">神奈川</text><text class="t m" y="1431"><tspan x="965">・</tspan><tspan x="1058">(</tspan><tspan x="1249">・</tspan><tspan x="1336">)</tspan></text><ellipse class="ci" cx="1368" cy="1423" rx="17" ry="19"/><text class="n" x="1357" y="1431">61</text></g>
<g id="p62"><text class="t" x="886" y="1512" textLength="67">村岡</text><text class="t" x="976" y="1512" textLength="72">大久保</text><text class="t" x="1071" y="1512" textLength="166">飛鳥クラブ</text><text class="t" x="1257" y="1512" textLength="71">東京</text><text class="t m" y="1512"><tspan x="965">・</tspan><tspan x="1058">(</tspan><tspan x="1249">・</tspan><tspan x="1336">)</tspan></text><text class="n" x="1357" y="1512">62</text></g>
<g id="p63"><text class="t" x="886" y="1554" textLength="67">後藤</text><text class="t" x="976" y="1554" textLength="72">大熊</text><text class="t" x="1071" y="1554" textLength="166">卓進クラブ</text><text class="t" x="1257" y="1554" textLength="71">埼玉</text><text class="t m" y="1554"><tspan x="965">・</tspan><tspan x="1058">(</tspan><tspan x="1249">・</tspan><tspan x="1336">)</tspan></text><ellipse class="ci" cx="1368" cy="1546" rx="17" ry="19"/><text class="n" x="1357" y="1554">63</text></g>
<g id="p64"><text class="t" x="886" y="1595" textLength="67">南谷</text><text class="t" x="976" y="1595" textLength="72">重元</text><text class="t" x="1071" y="1595" textLength="166">柏ソレイユ</text><text class="t" x="1257" y="1595" textLength="71">千葉</text><text class="t m" y="1595"><tspan x="965">・</tspan><tspan x="1058">(</tspan><tspan x="1249">・</tspan><tspan x="1336">)</tspan></text><text class="n" x="1357" y="1595">64</text></g>
<g id="final">
<text class="t" x="1074" y="1653" textLength="116">決勝</text>
<text class="lb m" x="1132" y="1679">601</text>
<path class="ln" d="M1060 1688Q1050 1690 1050 1705L1050 1735Q1050 1748 1043 1750Q1050 1752 1050 1765L1050 1805Q1050 1817 1058 1820 M1207 1688Q1216 1690 1216 1705L1216 1730Q1216 1742 1223 1745Q1216 1748 1216 1760L1216 1785Q1216 1800 1207 1802 M1107 1710H1160 M1107 1729H1160 M1107 1748H1160 M1107 1767H1160 M1107 1786H1160"/>
</g>
<g id="marks-right" class="r">
<text x="1410" y="67">1</text><text x="1410" y="109">3</text><text x="1410" y="149">2</text><text x="1410" y="228">1</text><text x="1410" y="269">2</text><text x="1410" y="308">3</text><text x="1410" y="389">1</text><text x="1410" y="430">2</text><text x="1410" y="470">3</text><text x="1410" y="549">3</text><text x="1410" y="589">1</text><text x="1410" y="629">2</text><text x="1410" y="709">1</text><text x="1410" y="748">3</text><text x="1410" y="788">2</text><text x="1410" y="869">3</text><text x="1410" y="908">2</text><text x="1410" y="949">1</text><text x="1410" y="1029">1</text><text x="1410" y="1068">3</text><text x="1410" y="1109">2</text><text x="1410" y="1230">1</text><text x="1410" y="1271">2</text><text x="1410" y="1351">2</text><text x="1410" y="1392">3</text><text x="1410" y="1432">1</text><text x="1410" y="1513">2</text><text x="1410" y="1555">1</text><text x="1410" y="1596">3</text>
</g>
</g>
<g id="marks-left" class="r">
<text x="22" y="91">2</text><text x="22" y="131">1</text><text x="22" y="170">4</text><text x="22" y="210">3</text><text x="22" y="332">2</text><text x="22" y="372">1</text><text x="22" y="455">2</text><text x="22" y="495">3</text><text x="22" y="535">1</text><text x="22" y="613">1</text><text x="22" y="654">2</text><text x="22" y="694">3</text><text x="22" y="771">3</text><text x="22" y="812">2</text><text x="22" y="853">1</text><text x="22" y="931">3</text><text x="22" y="971">1</text><text x="22" y="1011">2</text><text x="22" y="1091">1</text><text x="22" y="1131">3</text><text x="22" y="1171">2</text><text x="22" y="1253">1</text><text x="22" y="1293">2</text><text x="22" y="1334">3</text><text x="22" y="1414">1</text><text x="22" y="1455">2</text><text x="22" y="1495">3</text><text x="22" y="1576">1</text><text x="22" y="1616">2</text><text x="22" y="1657">3</text><text x="22" y="1738">1</text><text x="22" y="1778">2</text><text x="22" y="1814">3</text>
</g>
<g id="marks-bracket" class="r2">
<text x="626" y="121">0</text><text x="657" y="234">2</text><text x="606" y="486">1</text><text x="630" y="813">0</text><text x="701" y="878">1</text><text x="734" y="870">3</text><text x="805" y="900">0</text><text x="798" y="367">0</text><text x="830" y="455">2</text><text x="786" y="689">2</text><text x="805" y="771">1</text><text x="663" y="1056">2</text><text x="615" y="1103">1</text><text x="638" y="1208">1</text><text x="685" y="1372">0</text><text x="621" y="1613">1</text><text x="647" y="1778">0</text><text x="780" y="975">1</text><text x="762" y="1240">0</text><text x="835" y="1408">0</text><text x="820" y="1577">1</text>
</g>
<path d="M720 888V859 M720 866H729" stroke="#ec8a45" stroke-width="4" fill="none" opacity=".8"/>
<path d="M899 782H966" stroke="#e32b2b" stroke-width="2" fill="none"/>
<text x="897" y="823" font-family="Noto Sans CJK JP,sans-serif" font-size="24" fill="#e32b2b">早く女</text>
<g id="handwriting" class="hw">
<text x="891" y="1765" font-size="24">35</text>
<text x="944" y="1742" font-size="28">粂川</text>
<text x="942" y="1771" font-size="28">三留</text>
<path d="M901 1774H1040 M1270 1769H1408" stroke="#333" stroke-width="1.5" fill="none"/>
<text x="879" y="1801" font-size="18" textLength="197">(相模原レディース・神奈</text>
<text x="1288" y="1720" font-size="30">小林</text>
<text x="1288" y="1766" font-size="38">梶原</text>
<text x="1402" y="1762" font-size="26">69</text>
<text x="1266" y="1812" font-size="26" textLength="167">(卓令・東)</text>
<g font-size="18" font-style="italic" text-anchor="middle"><text x="1108" y="1716">11</text><text x="1106" y="1737">11</text><text x="1122" y="1755">6</text><text x="1106" y="1776">11</text><text x="1194" y="1706">7</text><text x="1200" y="1730">9</text><text x="1196" y="1756">11</text><text x="1201" y="1776">9</text></g>
</g>
<text x="1043" y="1758" class="r">3</text>
<text x="1260" y="1760" class="r">1</text>
</svg>
